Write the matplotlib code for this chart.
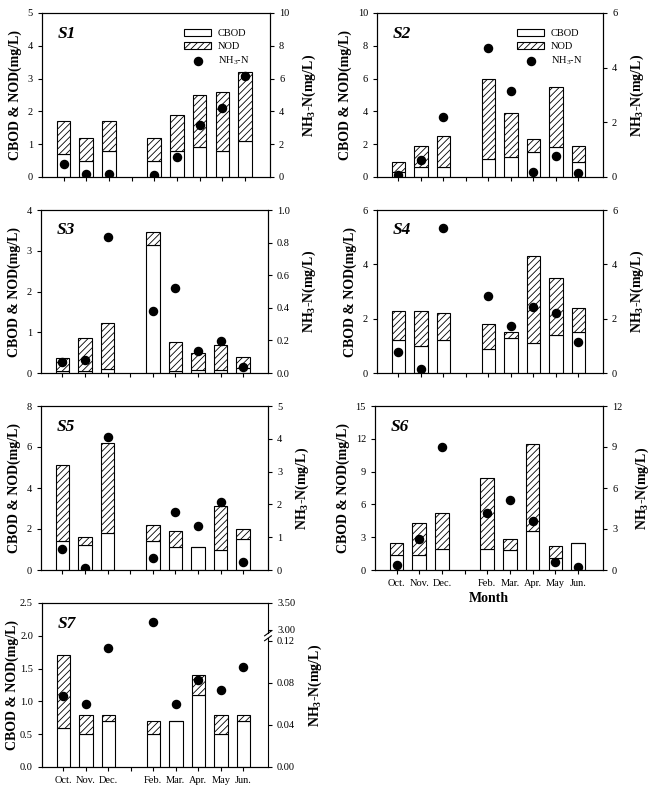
import numpy as np
import matplotlib
matplotlib.use('Agg')
import matplotlib.pyplot as plt
from matplotlib.lines import Line2D
from matplotlib.ticker import NullLocator

plt.rcParams['font.family'] = 'serif'
plt.rcParams['font.serif'] = ['Liberation Serif', 'DejaVu Serif']
plt.rcParams['mathtext.default'] = 'regular'
plt.rcParams['hatch.linewidth'] = 0.6
plt.rcParams['hatch.color'] = '#222222'

months = ['Oct.', 'Nov.', 'Dec.', '', 'Feb.', 'Mar.', 'Apr.', 'May', 'Jun.']
sampled = ['Oct.', 'Nov.', 'Dec.', 'Feb.', 'Mar.', 'Apr.', 'May', 'Jun.']

s1_cbod = [0.7, 0.5, 0.8, 0.5, 0.8, 0.9, 0.8, 1.1]
s1_nod = [1.0, 0.7, 0.9, 0.7, 1.1, 1.6, 1.8, 2.1]
s1_nh3 = [0.82, 0.20, 0.20, 0.15, 1.22, 3.16, 4.22, 6.16]

s2_cbod = [0.3, 0.6, 0.6, 1.1, 1.2, 1.5, 1.8, 0.9]
s2_nod = [0.6, 1.3, 1.9, 4.9, 2.7, 0.8, 3.7, 1.0]
s2_nh3 = [0.06, 0.61, 2.20, 4.71, 3.16, 0.18, 0.76, 0.16]

s3_cbod = [0.05, 0.05, 0.10, 3.14, 0.05, 0.08, 0.07, 0.12]
s3_nod = [0.32, 0.81, 1.12, 0.31, 0.72, 0.40, 0.61, 0.27]
s3_nh3 = [0.067, 0.078, 0.837, 0.378, 0.524, 0.135, 0.194, 0.037]

s4_cbod = [1.2, 1.0, 1.2, 0.9, 1.3, 1.1, 1.4, 1.5]
s4_nod = [1.1, 1.3, 1.0, 0.9, 0.2, 3.2, 2.1, 0.9]
s4_nh3 = [0.77, 0.15, 5.32, 2.83, 1.74, 2.42, 2.22, 1.15]

s5_cbod = [1.4, 1.2, 1.8, 1.4, 1.1, 1.1, 1.0, 1.5]
s5_nod = [3.7, 0.4, 4.4, 0.8, 0.8, 0.0, 2.1, 0.5]
s5_nh3 = [0.63, 0.07, 4.06, 0.37, 1.76, 1.33, 2.06, 0.24]

s6_cbod = [1.4, 1.4, 1.9, 1.9, 1.8, 3.6, 1.1, 2.5]
s6_nod = [1.1, 2.9, 3.3, 6.5, 1.0, 7.9, 1.1, 0.0]
s6_nh3 = [0.36, 2.26, 9.00, 4.14, 5.11, 3.55, 0.61, 0.24]

s7_cbod = [0.6, 0.5, 0.7, 0.5, 0.7, 1.1, 0.5, 0.7]
s7_nod = [1.1, 0.3, 0.1, 0.2, 0.0, 0.3, 0.3, 0.1]
s7_nh3 = [0.067, 0.060, 0.113, 3.14, 0.060, 0.083, 0.073, 0.095]

# broken right axis of S7: 0-0.12 then 3.00-3.50
brk_in = [0.0, 0.12, 3.0, 3.5]
brk_out = [0.0, 0.12, 0.1303, 0.1556]

W, H = 651, 792
fig = plt.figure(figsize=(W / 100, H / 100), dpi=100)


def panel(box, name, cbod, nod, nh3, lticks, rticks, lfmt, rfmt,
          show_months=False, xlabel=False, legend=False, broken=False):
    l, t, r, b = box
    ax = fig.add_axes([l / W, 1 - b / H, (r - l) / W, (b - t) / H])
    x = [months.index(m) for m in sampled]
    b1 = ax.bar(x, cbod, 0.6, color='white', edgecolor='black', lw=0.8, label='CBOD')
    b2 = ax.bar(x, nod, 0.6, bottom=cbod, color='white', edgecolor='black',
                hatch='/////', lw=0.8, label='NOD')
    ax.set_xlim(-0.95, 9.1)
    ax.set_xticks(range(len(months)))
    ax.set_xticklabels(months if show_months else [])
    ax.set_ylim(lticks[0], lticks[-1])
    ax.set_yticks(lticks)
    ax.set_yticklabels([lfmt % v for v in lticks])
    ax.set_ylabel('CBOD & NOD(mg/L)', fontweight='bold', fontsize=10, labelpad=4)
    ax.tick_params(direction='out', length=3, width=0.8, labelsize=7.5)
    if xlabel:
        ax.set_xlabel('Month', fontweight='bold', fontsize=10, labelpad=3)
    ax.text(0.07, 0.85, name, transform=ax.transAxes, fontsize=12.5,
            fontweight='bold', fontstyle='italic')

    ax2 = ax.twinx()
    sc = ax2.scatter(x, nh3, s=34, color='black', zorder=3, label='NH$_3$-N')
    if broken:
        ax2.set_yscale('function', functions=(lambda v: np.interp(v, brk_in, brk_out),
                                               lambda v: np.interp(v, brk_out, brk_in)))
        ax2.yaxis.set_minor_locator(NullLocator())
    ax2.set_ylim(rticks[0], rticks[-1])
    ax2.set_yticks(rticks)
    ax2.set_yticklabels([rfmt % v for v in rticks])
    ax2.set_ylabel('NH$_3$-N(mg/L)', fontweight='bold', fontsize=10, labelpad=8)
    ax2.tick_params(direction='out', length=3, width=0.8, labelsize=7.5)
    for s in ax.spines.values():
        s.set_linewidth(0.8)
    for s in ax2.spines.values():
        s.set_linewidth(0.8)

    if broken:
        ax.yaxis.set_label_coords(-0.10, 0.5)
        ax.spines['right'].set_visible(False)
        ax2.spines['right'].set_visible(False)
        y0, y1 = 0.785, 0.815
        for seg in [((1, 1), (0, y0)), ((1, 1), (y1, 1))]:
            ax2.add_line(Line2D(*seg, transform=ax2.transAxes, color='black',
                                lw=0.8, clip_on=False))
        for yc in (y0, y1):
            ax2.add_line(Line2D([0.985, 1.015], [yc - 0.015, yc + 0.015],
                                transform=ax2.transAxes, color='black',
                                lw=0.8, clip_on=False))

    if legend:
        ax2.legend([b1, b2, sc], ['CBOD', 'NOD', 'NH$_3$-N'], loc='upper right',
                   bbox_to_anchor=(0.95, 0.96), frameon=False, fontsize=7.5,
                   handlelength=2.6, handleheight=0.7, labelspacing=0.35,
                   handletextpad=0.6)
    return ax, ax2


panel((42, 13, 270, 177), 'S1', s1_cbod, s1_nod, s1_nh3,
      [0, 1, 2, 3, 4, 5], [0, 2, 4, 6, 8, 10], '%d', '%d', legend=True)
panel((377, 13, 603, 177), 'S2', s2_cbod, s2_nod, s2_nh3,
      [0, 2, 4, 6, 8, 10], [0, 2, 4, 6], '%d', '%d', legend=True)
panel((41, 210, 268, 373), 'S3', s3_cbod, s3_nod, s3_nh3,
      [0, 1, 2, 3, 4], [0, 0.2, 0.4, 0.6, 0.8, 1.0], '%d', '%.1f')
panel((377, 210, 603, 373), 'S4', s4_cbod, s4_nod, s4_nh3,
      [0, 2, 4, 6], [0, 2, 4, 6], '%d', '%d')
panel((41, 406, 268, 570), 'S5', s5_cbod, s5_nod, s5_nh3,
      [0, 2, 4, 6, 8], [0, 1, 2, 3, 4, 5], '%d', '%d')
panel((375, 406, 603, 570), 'S6', s6_cbod, s6_nod, s6_nh3,
      [0, 3, 6, 9, 12, 15], [0, 3, 6, 9, 12], '%d', '%d',
      show_months=True, xlabel=True)
panel((42, 603, 268, 767), 'S7', s7_cbod, s7_nod, s7_nh3,
      [0, 0.5, 1.0, 1.5, 2.0, 2.5], [0, 0.04, 0.08, 0.12, 3.0, 3.5], '%.1f', '%.2f',
      show_months=True, broken=True)

fig.savefig('out.png', dpi=100)
